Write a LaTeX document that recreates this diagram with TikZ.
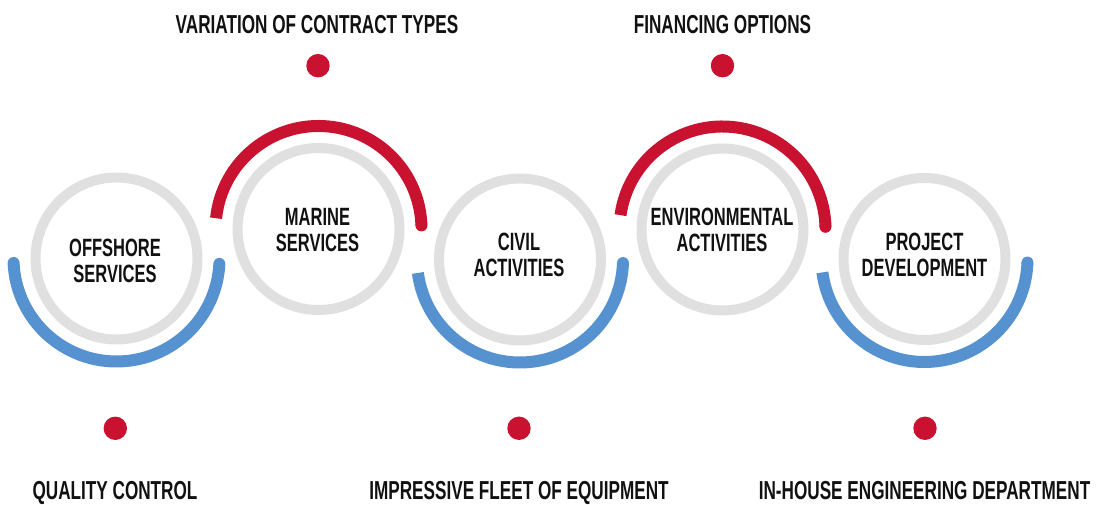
\documentclass[tikz,border=0pt]{standalone}
\usepackage{fontspec}
\setmainfont{Liberation Sans}[FakeStretch=0.66]
\definecolor{ringgray}{RGB}{224,224,224}
\definecolor{arcred}{RGB}{200,18,48}
\definecolor{arcblue}{RGB}{86,146,207}
\definecolor{txt}{RGB}{17,17,17}
\begin{document}
\begin{tikzpicture}[x=1pt,y=1pt,
  ringnode/.style={circle,draw=ringgray,line width=10pt,minimum size=162pt,inner sep=0pt},
  lbl/.style={font=\bfseries\fontsize{25}{26}\selectfont,text=txt,align=center,inner sep=0pt},
  outer/.style={font=\bfseries\fontsize{26}{28}\selectfont,text=txt,anchor=base,inner sep=0pt},
  bluearc/.style={draw=arcblue,line width=12pt,line cap=butt},
  redarc/.style={draw=arcred,line width=12pt,line cap=butt},
  dot/.style={circle,fill=arcred,minimum size=23.4pt,inner sep=0pt}]
\useasboundingbox (0,0) rectangle (1104,505);
% centres
\coordinate (c1) at (116.5,246.5);
\coordinate (c2) at (318.5,276);
\coordinate (c3) at (520,245.5);
\coordinate (c4) at (722.5,275.5);
\coordinate (c5) at (924.5,246);
% gray rings
\node[ringnode] (r1) at (c1) {};
\node[ringnode] (r2) at (c2) {};
\node[ringnode] (r3) at (c3) {};
\node[ringnode] (r4) at (c4) {};
\node[ringnode] (r5) at (c5) {};
% coloured arcs
\draw[bluearc,line cap=round] ([shift={(182.5:103)}]c1) arc[start angle=182.5,end angle=357,radius=103];
\draw[redarc] ([shift={(174:103)}]c2) arc[start angle=174,end angle=2,radius=103];
\fill[arcred] ([shift={(2:103)}]c2) circle[radius=6];
\draw[bluearc] ([shift={(187.5:103)}]c3) arc[start angle=187.5,end angle=358,radius=103];
\fill[arcblue] ([shift={(358:103)}]c3) circle[radius=6];
\draw[redarc] ([shift={(172:103)}]c4) arc[start angle=172,end angle=1.5,radius=103];
\fill[arcred] ([shift={(1.5:103)}]c4) circle[radius=6];
\draw[bluearc] ([shift={(187.5:103)}]c5) arc[start angle=187.5,end angle=358,radius=103];
\fill[arcblue] ([shift={(358:103)}]c5) circle[radius=6];
% circle labels
\node[lbl] (l1) at (115,244.5) {OFFSHORE\\SERVICES};
\node[lbl] (l2) at (317.5,275) {MARINE\\SERVICES};
\node[lbl] (l3) at (519,250) {CIVIL\\ACTIVITIES};
\node[lbl] (l4) at (722,275) {ENVIRONMENTAL\\ACTIVITIES};
\node[lbl] (l5) at (924.5,250) {PROJECT\\DEVELOPMENT};
% dots
\node[dot] (d2) at (318,439.3) {};
\node[dot] (d4) at (722.5,439.3) {};
\node[dot] (d1) at (115.3,76.7) {};
\node[dot] (d3) at (519,76.7) {};
\node[dot] (d5) at (925,76.7) {};
% outer texts
\node[outer] (t2) at (317,471) {VARIATION OF CONTRACT TYPES};
\node[outer] (t4) at (722.5,471) {FINANCING OPTIONS};
\node[outer] (t1) at (115,5) {QUALITY CONTROL};
\node[outer] (t3) at (519,5) {IMPRESSIVE FLEET OF EQUIPMENT};
\node[outer] (t5) at (924.5,5) {IN-HOUSE ENGINEERING DEPARTMENT};
\end{tikzpicture}
\end{document}
